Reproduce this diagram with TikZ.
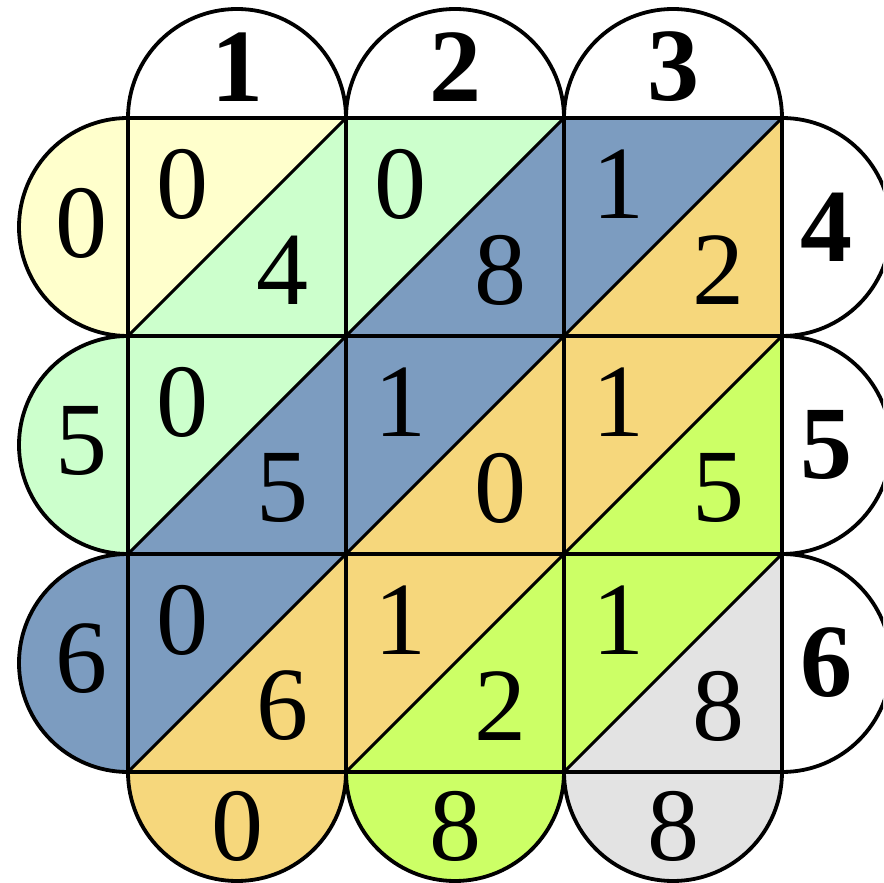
\documentclass[tikz,border=0pt]{standalone}
\usepackage{fontspec}
\setmainfont{Liberation Serif}
\definecolor{cY}{HTML}{FFFFCC}
\definecolor{cG}{HTML}{CCFFCC}
\definecolor{cB}{HTML}{7C9CC0}
\definecolor{cT}{HTML}{F6D77C}
\definecolor{cL}{HTML}{CCFF66}
\definecolor{cS}{HTML}{E3E3E3}
\begin{document}
\begin{tikzpicture}[x=1pt,y=1pt,
  ln/.style={line width=3.8pt, line join=round},
  gl/.style={line width=3.4pt},
  dg/.style={line width=3pt},
  num/.style={font=\fontsize{104}{104}\selectfont, inner sep=0pt},
  bnum/.style={font=\fontsize{104}{104}\selectfont\bfseries, inner sep=0pt}]
\useasboundingbox (0,0) rectangle (883,883);
\clip (0,0) rectangle (883,883);
% diagonal bands
\fill[cY] (128,547) -- (128,765) -- (346,765) -- cycle;
\fill[cG] (128,329) -- (128,547) -- (346,765) -- (564,765) -- cycle;
\fill[cB] (128,111) -- (128,329) -- (564,765) -- (782,765) -- cycle;
\fill[cT] (128,111) -- (346,111) -- (782,547) -- (782,765) -- cycle;
\fill[cL] (346,111) -- (564,111) -- (782,329) -- (782,547) -- cycle;
\fill[cS] (564,111) -- (782,111) -- (782,329) -- cycle;
% top semicircles
\filldraw[fill=white, ln] (128,765) arc[start angle=180,end angle=0,radius=109] -- cycle;
\filldraw[fill=white, ln] (346,765) arc[start angle=180,end angle=0,radius=109] -- cycle;
\filldraw[fill=white, ln] (564,765) arc[start angle=180,end angle=0,radius=109] -- cycle;
% right semicircles
\filldraw[fill=white, ln] (782,765) arc[start angle=90,end angle=-90,radius=109] -- cycle;
\filldraw[fill=white, ln] (782,547) arc[start angle=90,end angle=-90,radius=109] -- cycle;
\filldraw[fill=white, ln] (782,329) arc[start angle=90,end angle=-90,radius=109] -- cycle;
% left semicircles
\filldraw[fill=cY, ln] (128,765) arc[start angle=90,end angle=270,radius=109] -- cycle;
\filldraw[fill=cG, ln] (128,547) arc[start angle=90,end angle=270,radius=109] -- cycle;
\filldraw[fill=cB, ln] (128,329) arc[start angle=90,end angle=270,radius=109] -- cycle;
% bottom semicircles
\filldraw[fill=cT, ln] (128,111) arc[start angle=180,end angle=360,radius=109] -- cycle;
\filldraw[fill=cL, ln] (346,111) arc[start angle=180,end angle=360,radius=109] -- cycle;
\filldraw[fill=cS, ln] (564,111) arc[start angle=180,end angle=360,radius=109] -- cycle;
% grid
\draw[gl] (128,111) rectangle (782,765);
\draw[gl] (346,111) -- (346,765) (564,111) -- (564,765);
\draw[gl] (128,547) -- (782,547) (128,329) -- (782,329);
% diagonals
\draw[dg] (128,547) -- (346,765);
\draw[dg] (128,329) -- (564,765);
\draw[dg] (128,111) -- (782,765);
\draw[dg] (346,111) -- (782,547);
\draw[dg] (564,111) -- (782,329);
% top labels
\node[bnum] (t1) at (237,816) {1};
\node[bnum] (t2) at (455,816) {2};
\node[bnum] (t3) at (673,816) {3};
% right labels
\node[bnum] (r1) at (826,656) {4};
\node[bnum] (r2) at (826,438) {5};
\node[bnum] (r3) at (826,220) {6};
% left labels
\node[num] (l1) at (81,660) {0};
\node[num] (l2) at (81,442) {5};
\node[num] (l3) at (81,224) {6};
% bottom labels
\node[num] (b1) at (237,57) {0};
\node[num] (b2) at (455,57) {8};
\node[num] (b3) at (673,57) {8};
% cell digits: tens at (L+54, T-66), units at (L+154, T-152)
\node[num] (a11) at (182,699) {0}; \node[num] (u11) at (282,613) {4};
\node[num] (a12) at (400,699) {0}; \node[num] (u12) at (500,613) {8};
\node[num] (a13) at (618,699) {1}; \node[num] (u13) at (718,613) {2};
\node[num] (a21) at (182,481) {0}; \node[num] (u21) at (282,395) {5};
\node[num] (a22) at (400,481) {1}; \node[num] (u22) at (500,395) {0};
\node[num] (a23) at (618,481) {1}; \node[num] (u23) at (718,395) {5};
\node[num] (a31) at (182,263) {0}; \node[num] (u31) at (282,177) {6};
\node[num] (a32) at (400,263) {1}; \node[num] (u32) at (500,177) {2};
\node[num] (a33) at (618,263) {1}; \node[num] (u33) at (718,177) {8};
\end{tikzpicture}
\end{document}
